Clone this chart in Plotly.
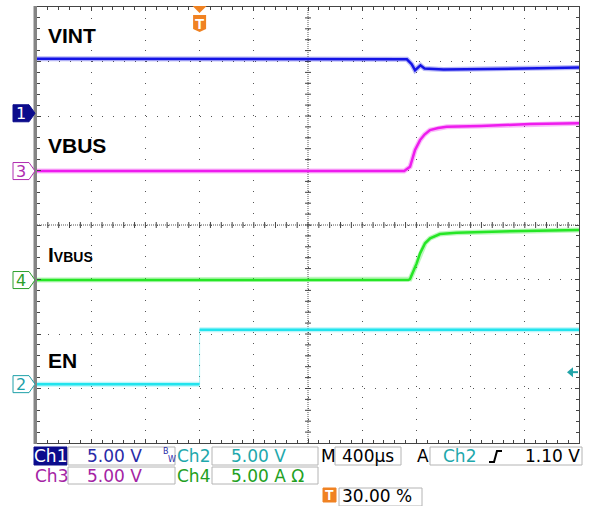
import plotly.graph_objects as go

# ---------------- data (read from the scope capture) ----------------
TIME_PER_DIV = 400.0       # µs / div
TRIGGER_POS = 0.30         # 30.00 %
T_START = -TRIGGER_POS * 10 * TIME_PER_DIV
T_END = T_START + 10 * TIME_PER_DIV

# channel scales (units/div) and ground-marker offsets (div)
ch1_scale, ch2_scale, ch3_scale, ch4_scale = 5.0, 5.0, 5.0, 5.0
ch1_offset, ch2_offset, ch3_offset, ch4_offset = 2.05, -2.92, 0.99, -1.01
trig_level = 1.10  # V on Ch2

vint_t = [-1200, 1480, 1530, 1565, 1590, 1630, 1660, 1800, 2200, 2500, 2800]
vint_v = [5.00, 5.00, 4.95, 4.50, 3.95, 4.40, 4.10, 4.02, 4.05, 4.12, 4.20]

vbus_t = [-1200, 1510, 1553, 1590, 1627, 1660, 1700, 1760, 1824, 2077, 2438, 2800]
vbus_v = [0.00, 0.00, 0.39, 1.93, 2.84, 3.35, 3.76, 3.95, 4.06, 4.13, 4.31, 4.38]

ivbus_t = [-1200, 1540, 1553, 1577, 1602, 1627, 1664, 1701, 1774, 1897, 2143, 2291, 2800]
ivbus_a = [0.00, 0.00, 0.09, 0.76, 1.53, 2.45, 3.37, 3.83, 4.22, 4.34, 4.38, 4.47, 4.59]

en_t = [-1200, 0, 0, 2800]
en_v = [0.0, 0.0, 5.0, 5.0]

labels = ["VINT", "VBUS", "I<span style='font-size:14px'>VBUS</span>", "EN"]

# ---------------- geometry helpers ----------------
FIG_W, FIG_H = 591, 506
L, R, T, B = 37, 579, 7, 443
W, H = R - L, B - T


def xp(px):
    return (px - L) / W


def yp(py):
    return (B - py) / H


def t2px(t):
    return L + (t - T_START) / (T_END - T_START) * W


def d2py(d):
    return B - (d + 4) / 8 * H


def to_div(vals, scale, offset):
    return [v / scale + offset for v in vals]


BLUE = "#1414e6"
MAGENTA = "#ee1cee"
GREEN = "#26e626"
CYAN = "#22e4ee"

fig = go.Figure()


def add_trace(x, y, color, break_vertical=False):
    xs, ys = [], []
    for i, (a, b) in enumerate(zip(x, y)):
        if break_vertical and i > 0 and a == x[i - 1]:
            xs.append(None)
            ys.append(None)
        xs.append(a)
        ys.append(b)
    if break_vertical:
        fig.add_trace(go.Scatter(x=x, y=y, mode="lines",
                                 line=dict(color=color, width=1), opacity=0.35,
                                 hoverinfo="skip"))
    fig.add_trace(go.Scatter(x=xs, y=ys, mode="lines",
                             line=dict(color=color, width=5), opacity=0.3,
                             hoverinfo="skip"))
    fig.add_trace(go.Scatter(x=xs, y=ys, mode="lines",
                             line=dict(color=color, width=2.5), hoverinfo="skip"))


add_trace(vint_t, to_div(vint_v, ch1_scale, ch1_offset), BLUE)
add_trace(vbus_t, to_div(vbus_v, ch3_scale, ch3_offset), MAGENTA)
add_trace(ivbus_t, to_div(ivbus_a, ch4_scale, ch4_offset), GREEN)
add_trace(en_t, to_div(en_v, ch2_scale, ch2_offset), CYAN, break_vertical=True)

shapes = []
annotations = []

# center cross lines (dense dotted) and their minor ticks
t_center = (T_START + T_END) / 2
shapes.append(dict(type="line", xref="x", yref="y", x0=t_center, x1=t_center,
                   y0=-4, y1=4, line=dict(color="#555", width=1, dash="1px,1px"),
                   layer="below"))
shapes.append(dict(type="line", xref="x", yref="y", x0=T_START, x1=T_END,
                   y0=0, y1=0, line=dict(color="#555", width=1, dash="1px,1px"),
                   layer="below"))
for k in range(1, 50):
    tt = T_START + k * TIME_PER_DIV / 5
    shapes.append(dict(type="line", xref="x", yref="y", ysizemode="pixel", yanchor=0,
                       x0=tt, x1=tt, y0=-3, y1=3,
                       line=dict(color="#444", width=1), layer="below"))
for k in range(1, 40):
    dd = -4 + k * 0.2
    shapes.append(dict(type="line", xref="x", yref="y", xsizemode="pixel", xanchor=t_center,
                       x0=-3, x1=3, y0=dd, y1=dd,
                       line=dict(color="#444", width=1), layer="below"))

# thick gray left frame
shapes.append(dict(type="rect", xref="paper", yref="paper",
                   x0=xp(33.5), x1=xp(37), y0=yp(B + 1), y1=yp(T - 1),
                   fillcolor="#858585", line=dict(width=0)))

# channel ground markers
def ch_marker(offset, text, color, filled):
    cy = d2py(offset)
    pts = [(13, cy - 8.5), (29, cy - 8.5), (35, cy), (29, cy + 8.5), (13, cy + 8.5)]
    path = "M " + " L ".join(f"{xp(a):.5f},{yp(b):.5f}" for a, b in pts) + " Z"
    shapes.append(dict(type="path", xref="paper", yref="paper", path=path,
                       fillcolor=color if filled else "white",
                       line=dict(color=color, width=1)))
    annotations.append(dict(x=xp(21), y=yp(cy), xref="paper", yref="paper", text=text,
                            showarrow=False, xanchor="center", yanchor="middle",
                            font=dict(family="DejaVu Sans", size=16,
                                      color="white" if filled else color)))


ch_marker(ch1_offset, "1", "#0c0c8c", True)
ch_marker(ch3_offset, "3", "#b02cb0", False)
ch_marker(ch4_offset, "4", "#2ca02c", False)
ch_marker(ch2_offset, "2", "#1ea0a8", False)

# trigger position marker (top)
ORANGE = "#f08222"
tx = t2px(0)
tri = f"M {xp(tx-7):.5f},{yp(6):.5f} L {xp(tx+7):.5f},{yp(6):.5f} L {xp(tx):.5f},{yp(13):.5f} Z"
shapes.append(dict(type="path", xref="paper", yref="paper", path=tri,
                   fillcolor=ORANGE, line=dict(width=0)))
shield = (f"M {xp(tx-6.5):.5f},{yp(15):.5f} L {xp(tx+6.5):.5f},{yp(15):.5f} "
          f"L {xp(tx+6.5):.5f},{yp(29):.5f} L {xp(tx):.5f},{yp(32):.5f} "
          f"L {xp(tx-6.5):.5f},{yp(29):.5f} Z")
shapes.append(dict(type="path", xref="paper", yref="paper", path=shield,
                   fillcolor=ORANGE, line=dict(width=0)))
annotations.append(dict(x=xp(tx), y=yp(23), xref="paper", yref="paper", text="<b>T</b>",
                        showarrow=False, xanchor="center", yanchor="middle", borderpad=0,
                        font=dict(family="Liberation Sans", size=15, color="white")))

# trigger level arrow (right)
ty = d2py(ch2_offset + trig_level / ch2_scale)
arr = f"M {xp(567):.5f},{yp(ty):.5f} L {xp(573):.5f},{yp(ty-5):.5f} L {xp(573):.5f},{yp(ty+5):.5f} Z"
shapes.append(dict(type="path", xref="paper", yref="paper", path=arr,
                   fillcolor="#22a4a8", line=dict(width=0)))
shapes.append(dict(type="line", xref="paper", yref="paper", x0=xp(572), x1=xp(578),
                   y0=yp(ty), y1=yp(ty), line=dict(color="#22a4a8", width=2)))

# trace labels
LBL_FONT = dict(family="Liberation Sans", size=21, color="black")
for text, cy in zip(labels, [35.5, 145.5, 255, 360.5]):
    annotations.append(dict(x=xp(46), y=yp(cy), xref="paper", yref="paper",
                            text=f"<b>{text}</b>", showarrow=False,
                            xanchor="left", yanchor="middle", font=LBL_FONT))

# ---------------- status bar ----------------
SB = "DejaVu Sans"


def box(x0, x1, y0, y1, fill="white", border="#b4b4b4"):
    shapes.append(dict(type="rect", xref="paper", yref="paper",
                       x0=xp(x0), x1=xp(x1), y0=yp(y1), y1=yp(y0),
                       fillcolor=fill, line=dict(color=border, width=1)))


def txt(x, cy, s, color, anchor="left", size=17):
    annotations.append(dict(x=xp(x), y=yp(cy), xref="paper", yref="paper", text=s,
                            showarrow=False, xanchor=anchor, yanchor="middle",
                            borderpad=0, font=dict(family=SB, size=size, color=color)))


C1T, C2T, C3T, C4T = "#2a2aa8", "#1ea8ac", "#a424a4", "#22a022"
r1, r2, r3 = 456, 475.5, 496
box(34, 67, 447, 465, fill="#0c0c8c", border="#0c0c8c")
txt(50.5, r1, "Ch1", "white", "center")
box(68, 175, 447, 465)
txt(86, r1, "5.00 V", C1T)
txt(162, 451.5, "B", C1T, size=8)
txt(167, 459, "W", C1T, size=8)
txt(176, r1, "Ch2", C2T)
box(212, 318, 447, 465)
txt(230, r1, "5.00 V", C2T)
txt(320, r1, "M", "black")
box(335, 401, 447, 465)
txt(341, r1, "400µs", "black")
txt(416, r1, "A", "black")
box(430, 582, 447, 465)
txt(442, r1, "Ch2", C2T)
edge = (f"M {xp(489):.5f},{yp(462):.5f} L {xp(494):.5f},{yp(462):.5f} "
        f"L {xp(497):.5f},{yp(451):.5f} L {xp(502):.5f},{yp(451):.5f}")
shapes.append(dict(type="path", xref="paper", yref="paper", path=edge,
                   line=dict(color="black", width=2)))
txt(581, r1, "1.10 V", "black", "right")

txt(34, r2, "Ch3", C3T)
box(68, 175, 467, 484)
txt(86, r2, "5.00 V", C3T)
txt(176, r2, "Ch4", C4T)
box(212, 318, 467, 484)
txt(230, r2, "5.00 A Ω", C4T)

box(323, 336, 488, 502, fill=ORANGE, border=ORANGE)
annotations.append(dict(x=xp(329.5), y=yp(495), xref="paper", yref="paper", text="<b>T</b>",
                        showarrow=False, xanchor="center", yanchor="middle", borderpad=0,
                        font=dict(family="Liberation Sans", size=14, color="white")))
box(339, 422, 488, 506)
txt(341, r3, "30.00 %", "black")

# ---------------- layout ----------------
fig.update_layout(
    width=FIG_W, height=FIG_H,
    margin=dict(l=L, r=FIG_W - R, t=T, b=FIG_H - B, pad=0),
    paper_bgcolor="white", plot_bgcolor="white",
    showlegend=False, shapes=shapes, annotations=annotations,
)
fig.update_xaxes(range=[T_START, T_END], tick0=T_START, dtick=TIME_PER_DIV,
                 showgrid=True, gridcolor="#555", gridwidth=1, griddash="1px,9.84px",
                 showticklabels=False, ticks="inside", ticklen=4, tickcolor="#444",
                 minor=dict(tick0=T_START, dtick=TIME_PER_DIV / 5, ticks="inside",
                            ticklen=3, tickcolor="#444", showgrid=False),
                 showline=True, linecolor="#444", linewidth=1, mirror="ticks",
                 zeroline=False, fixedrange=True)
fig.update_yaxes(range=[-4, 4], tick0=-4, dtick=1,
                 showgrid=True, gridcolor="#555", gridwidth=1, griddash="1px,9.9px",
                 showticklabels=False, ticks="inside", ticklen=4, tickcolor="#444",
                 minor=dict(tick0=-4, dtick=0.2, ticks="inside",
                            ticklen=3, tickcolor="#444", showgrid=False),
                 showline=True, linecolor="#444", linewidth=1, mirror="ticks",
                 zeroline=False, fixedrange=True)

fig.write_html("out.html", config={"displayModeBar": False},
               post_script="document.body.style.margin='0px';document.body.style.overflow='hidden';")
